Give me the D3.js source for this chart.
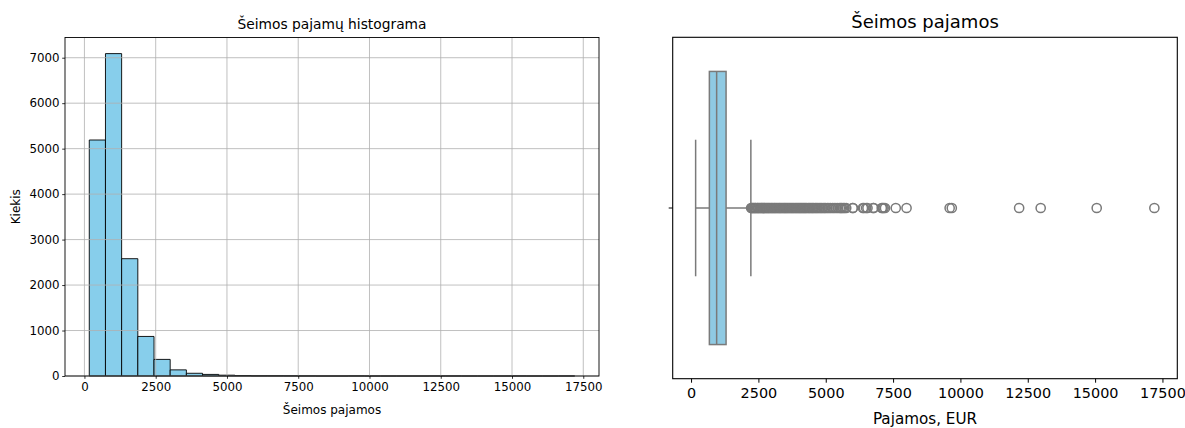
<!DOCTYPE html>
<html><head><meta charset="utf-8">
<script src="https://cdn.jsdelivr.net/npm/d3@7"></script>
<style>body{margin:0;background:#fff}svg{display:block}text{font-family:"DejaVu Sans",sans-serif;fill:#000}</style>
</head><body><svg id="c" width="1185" height="428"></svg>
<script>
// ---- data ----
const incomeMin = 170, incomeMax = 17200, binCount = 30;
const histCounts = [5190, 7090, 2580, 870, 365, 135, 60, 35, 18, 10, 5, 5, 4, 2, 0, 0, 2, 0, 0, 0, 0, 1, 1, 0, 0, 0, 1, 0, 0, 1];
const histXTicks = [0, 2500, 5000, 7500, 10000, 12500, 15000, 17500];
const histYTicks = [0, 1000, 2000, 3000, 4000, 5000, 6000, 7000];
const boxStats = {low: 170, q1: 680, median: 950, q3: 1300, high: 2220};
const outliers = [2230, 2260, 2290, 2320, 2350, 2385, 2410, 2450, 2480, 2510, 2550, 2580, 2620, 2650, 2690, 2720, 2760, 2800, 2830, 2870, 2900, 2940, 2980, 3010, 3050, 3090, 3120, 3160, 3200, 3240, 3280, 3310, 3350, 3390, 3430, 3470, 3500, 3540, 3580, 3620, 3660, 3700, 3740, 3780, 3820, 3860, 3900, 3940, 3980, 4020, 4060, 4100, 4140, 4180, 4220, 4260, 4300, 4350, 4390, 4430, 4480, 4520, 4560, 4610, 4650, 4700, 4750, 4800, 4850, 4900, 4950, 5000, 5060, 5120, 5180, 5250, 5310, 5380, 5450, 5520, 5560, 5600, 5650, 5700, 5760, 6000, 6010, 6380, 6420, 6500, 6550, 6760, 6780, 7080, 7110, 7150, 7200, 7600, 8000, 9600, 9680, 12180, 12980, 15060, 17200];

const svg = d3.select("#c");
svg.append("rect").attr("width",1185).attr("height",428).attr("fill","#fff");

// ---------- left: histogram ----------
{
  const L = {x0:65, x1:599, y0:37.5, y1:376};
  const span = incomeMax - incomeMin;
  const x = d3.scaleLinear().domain([incomeMin - 0.05*span, incomeMax + 0.05*span]).range([L.x0, L.x1]);
  const ymax = d3.max(histCounts) * 1.05;
  const y = d3.scaleLinear().domain([0, ymax]).range([L.y1, L.y0]);
  const bw = span / binCount;
  const g = svg.append("g");
  g.selectAll("path.bar").data(histCounts).join("path")
    .attr("d", (d,i) => {
      const a = x(incomeMin + i*bw), b = x(incomeMin + (i+1)*bw);
      return `M${a},${y(0)}V${y(d)}H${b}V${y(0)}Z`;
    })
    .attr("fill", "#87CEEB").attr("stroke", "#000").attr("stroke-width", 0.9);
  g.selectAll("line.gx").data(histXTicks).join("line")
    .attr("x1", d=>x(d)).attr("x2", d=>x(d)).attr("y1", L.y0).attr("y2", L.y1)
    .attr("stroke", "#b0b0b0").attr("stroke-width", 0.8);
  g.selectAll("line.gy").data(histYTicks).join("line")
    .attr("y1", d=>y(d)).attr("y2", d=>y(d)).attr("x1", L.x0).attr("x2", L.x1)
    .attr("stroke", "#b0b0b0").attr("stroke-width", 0.8);
  const xa = g.append("g").attr("transform", `translate(0,${L.y1})`)
    .call(d3.axisBottom(x).tickValues(histXTicks).tickFormat(d3.format("d")).tickSize(2.8).tickPadding(3.5));
  const ya = g.append("g").attr("transform", `translate(${L.x0},0)`)
    .call(d3.axisLeft(y).tickValues(histYTicks).tickFormat(d3.format("d")).tickSize(2.8).tickPadding(2.8));
  [xa, ya].forEach(a => { a.select(".domain").remove(); a.selectAll("text").attr("font-size", 11.8).attr("font-family","DejaVu Sans").attr("fill","#000"); a.selectAll("line").attr("stroke","#000").attr("stroke-width",0.8); });
  g.append("rect").attr("x", L.x0).attr("y", L.y0).attr("width", L.x1-L.x0).attr("height", L.y1-L.y0)
    .attr("fill", "none").attr("stroke", "#000").attr("stroke-width", 0.9);
  g.append("text").attr("x", (L.x0+L.x1)/2).attr("y", 29).attr("text-anchor","middle").attr("font-size", 13.8).text("Šeimos pajamų histograma");
  g.append("text").attr("x", (L.x0+L.x1)/2).attr("y", 413.5).attr("text-anchor","middle").attr("font-size", 12).text("Šeimos pajamos");
  g.append("text").attr("transform", `translate(20,${(L.y0+L.y1)/2}) rotate(-90)`).attr("text-anchor","middle").attr("font-size", 12).text("Kiekis");
}

// ---------- right: boxplot ----------
{
  const R = {x0:672.7, x1:1177.3, y0:37.3, y1:378.7};
  const span = incomeMax - incomeMin;
  const x = d3.scaleLinear().domain([incomeMin - 0.05*span, incomeMax + 0.05*span]).range([R.x0, R.x1]);
  const y = d3.scaleLinear().domain([-0.5, 0.5]).range([R.y0, R.y1]);
  const g = svg.append("g");
  const gray = "#7a7a7a", lw = 1.5;
  g.append("line").attr("x1", x(boxStats.low)).attr("x2", x(boxStats.q1)).attr("y1", y(0)).attr("y2", y(0)).attr("stroke", gray).attr("stroke-width", lw);
  g.append("line").attr("x1", x(boxStats.q3)).attr("x2", x(boxStats.high)).attr("y1", y(0)).attr("y2", y(0)).attr("stroke", gray).attr("stroke-width", lw);
  [boxStats.low, boxStats.high].forEach(v => g.append("line").attr("x1", x(v)).attr("x2", x(v)).attr("y1", y(-0.2)).attr("y2", y(0.2)).attr("stroke", gray).attr("stroke-width", lw));
  g.append("rect").attr("x", x(boxStats.q1)).attr("y", y(-0.4)).attr("width", x(boxStats.q3)-x(boxStats.q1)).attr("height", y(0.4)-y(-0.4))
    .attr("fill", "#8fcae3").attr("stroke", gray).attr("stroke-width", lw);
  g.append("line").attr("x1", x(boxStats.median)).attr("x2", x(boxStats.median)).attr("y1", y(-0.4)).attr("y2", y(0.4)).attr("stroke", gray).attr("stroke-width", lw);
  g.selectAll("circle").data(outliers).join("circle")
    .attr("cx", d=>x(d)).attr("cy", y(0)).attr("r", 4.6)
    .attr("fill", "none").attr("stroke", gray).attr("stroke-width", 1.5);
  const xa = g.append("g").attr("transform", `translate(0,${R.y1})`)
    .call(d3.axisBottom(x).tickValues(histXTicks).tickFormat(d3.format("d")).tickSize(4).tickPadding(5));
  xa.select(".domain").remove();
  xa.selectAll("text").attr("font-size", 14.4).attr("font-family","DejaVu Sans").attr("fill","#000");
  xa.selectAll("line").attr("stroke","#000").attr("stroke-width",1);
  g.append("line").attr("x1", R.x0-4).attr("x2", R.x0).attr("y1", y(0)).attr("y2", y(0)).attr("stroke","#000").attr("stroke-width",1);
  g.append("rect").attr("x", R.x0).attr("y", R.y0).attr("width", R.x1-R.x0).attr("height", R.y1-R.y0)
    .attr("fill", "none").attr("stroke", "#000").attr("stroke-width", 1.1);
  g.append("text").attr("x", (R.x0+R.x1)/2).attr("y", 27.5).attr("text-anchor","middle").attr("font-size", 18).text("Šeimos pajamos");
  g.append("text").attr("x", (R.x0+R.x1)/2).attr("y", 423.5).attr("text-anchor","middle").attr("font-size", 15.2).text("Pajamos, EUR");
}
</script></body></html>
